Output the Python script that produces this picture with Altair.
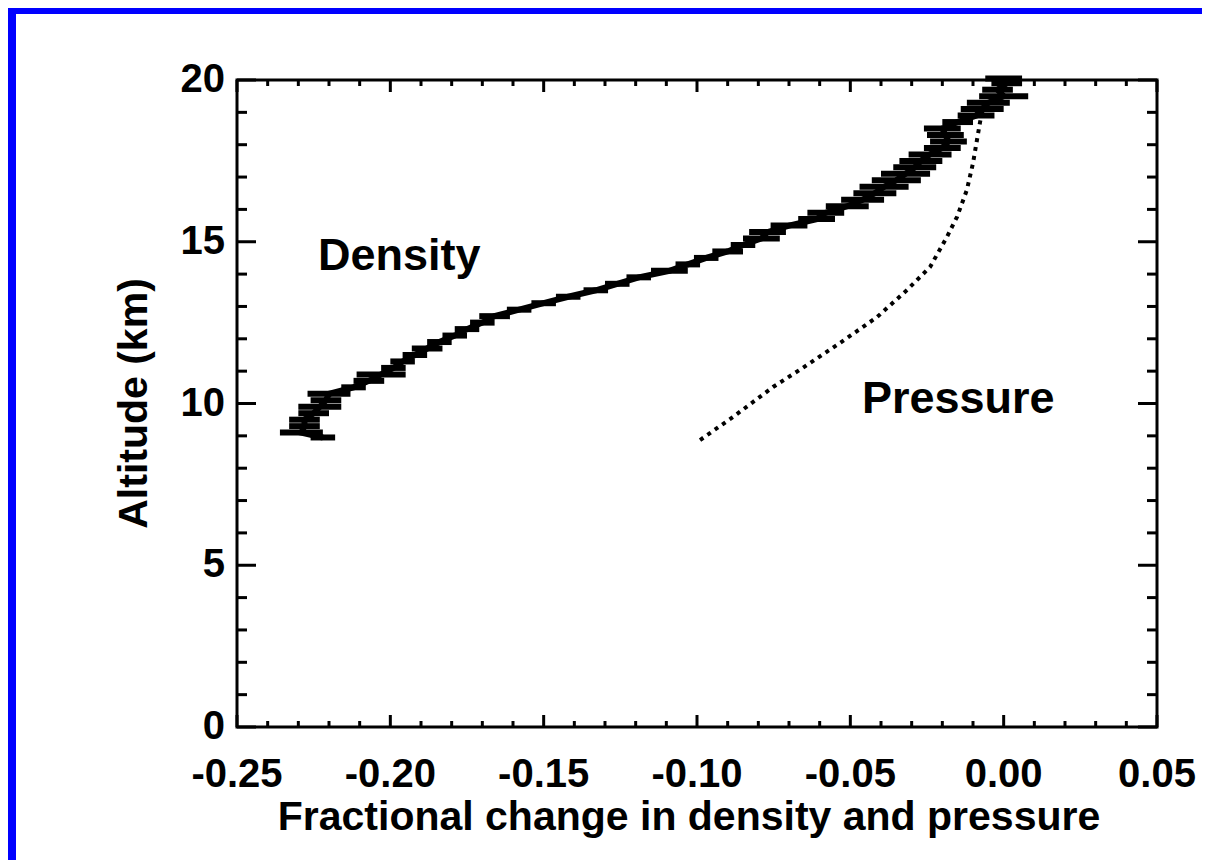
import altair as alt
import pandas as pd

# Density profile: altitude (km), fractional change, horizontal error half-width
dens_alt = [8.95, 9.1, 9.3, 9.5, 9.7, 9.9, 10.1, 10.3, 10.5, 10.7, 10.9, 11.1, 11.3, 11.5,
            11.7, 11.9, 12.1, 12.3, 12.5, 12.7, 12.9, 13.1, 13.3, 13.5, 13.7, 13.9, 14.1,
            14.3, 14.5, 14.7, 14.9, 15.1, 15.3, 15.5, 15.7, 15.9, 16.1, 16.3, 16.5, 16.7,
            16.9, 17.1, 17.3, 17.5, 17.7, 17.9, 18.1, 18.3, 18.5, 18.7, 18.9, 19.1, 19.3,
            19.5, 19.7, 19.9, 20.05]
dens_x = [-0.222, -0.229, -0.228, -0.228, -0.225, -0.223, -0.221, -0.220, -0.212, -0.207,
          -0.203, -0.199, -0.196, -0.192, -0.188, -0.184, -0.179, -0.175, -0.170, -0.166,
          -0.158, -0.150, -0.142, -0.133, -0.126, -0.119, -0.109, -0.103, -0.097, -0.090,
          -0.085, -0.079, -0.077, -0.070, -0.061, -0.058, -0.051, -0.046, -0.042, -0.039,
          -0.035, -0.032, -0.029, -0.027, -0.024, -0.020, -0.018, -0.019, -0.020, -0.015,
          -0.009, -0.007, -0.005, 0.000, -0.002, 0.001, 0.000]
dens_err = [0.004, 0.007, 0.005, 0.005, 0.005, 0.007, 0.005, 0.007, 0.004, 0.005,
            0.008, 0.004, 0.004, 0.004, 0.005, 0.004, 0.004, 0.004, 0.004, 0.005,
            0.004, 0.004, 0.004, 0.004, 0.004, 0.004, 0.006, 0.004, 0.004, 0.005,
            0.004, 0.006, 0.006, 0.006, 0.006, 0.006, 0.007, 0.007, 0.007, 0.008,
            0.008, 0.008, 0.007, 0.007, 0.007, 0.006, 0.006, 0.006, 0.006, 0.005,
            0.006, 0.007, 0.007, 0.008, 0.005, 0.005, 0.006]

# Pressure profile
press_alt = [8.87, 9.58, 10.51, 11.10, 11.87, 12.67, 13.51, 14.22, 15.15, 15.77, 16.60,
             17.43, 18.15, 18.70, 19.20]
press_x = [-0.099, -0.0883, -0.0752, -0.0655, -0.0534, -0.0413, -0.0315, -0.024, -0.0185,
           -0.0152, -0.012, -0.010, -0.0087, -0.0077, -0.0065]

# Ticks and tick labels
x_major = [-0.25, -0.20, -0.15, -0.10, -0.05, 0.00, 0.05]
x_labels = ["-0.25", "-0.20", "-0.15", "-0.10", "-0.05", "0.00", "0.05"]
x_minor = [-0.24, -0.23, -0.22, -0.21, -0.19, -0.18, -0.17, -0.16, -0.14, -0.13, -0.12,
           -0.11, -0.09, -0.08, -0.07, -0.06, -0.04, -0.03, -0.02, -0.01, 0.01, 0.02,
           0.03, 0.04]
y_major = [0, 5, 10, 15, 20]
y_labels = ["0", "5", "10", "15", "20"]
y_minor = [1, 2, 3, 4, 6, 7, 8, 9, 11, 12, 13, 14, 16, 17, 18, 19]

x_title = "Fractional change in density and pressure"
y_title = "Altitude (km)"

# Annotations
label_text = ["Density", "Pressure"]
label_x = [-0.2236, -0.0462]
label_y = [14.13, 9.71]

W, H = 920, 647
FONT = "Liberation Sans"

xs = alt.Scale(domain=[-0.25, 0.05], nice=False, zero=False)
ys = alt.Scale(domain=[0, 20], nice=False, zero=False)

dens = pd.DataFrame({"alt": dens_alt, "x": dens_x, "err": dens_err})
dens["lo"] = dens["x"] - dens["err"]
dens["hi"] = dens["x"] + dens["err"]
press = pd.DataFrame({"alt": press_alt, "x": press_x})
labels = pd.DataFrame({"t": label_text, "x": label_x, "y": label_y})

bars = alt.Chart(dens).mark_rule(color="black", strokeWidth=6, strokeCap="butt").encode(
    x=alt.X("lo:Q", scale=xs, axis=None),
    x2="hi:Q",
    y=alt.Y("alt:Q", scale=ys, axis=None),
)
dline = alt.Chart(dens).mark_line(color="black", strokeWidth=6).encode(
    x=alt.X("x:Q", scale=xs, axis=None),
    y=alt.Y("alt:Q", scale=ys, axis=None),
    order="alt:Q",
)
pline = alt.Chart(press).mark_line(color="black", strokeWidth=4, strokeDash=[4, 5]).encode(
    x=alt.X("x:Q", scale=xs, axis=None),
    y=alt.Y("alt:Q", scale=ys, axis=None),
    order="alt:Q",
)

def xticks(vals, length):
    d = pd.DataFrame({"v": vals})
    bottom = alt.Chart(d).mark_rule(color="black", strokeWidth=3).encode(
        x=alt.X("v:Q", scale=xs, axis=None), y=alt.value(H), y2=alt.value(H - length))
    top = alt.Chart(d).mark_rule(color="black", strokeWidth=3).encode(
        x=alt.X("v:Q", scale=xs, axis=None), y=alt.value(0), y2=alt.value(length))
    return [bottom, top]

def yticks(vals, length):
    d = pd.DataFrame({"v": vals})
    left = alt.Chart(d).mark_rule(color="black", strokeWidth=3).encode(
        y=alt.Y("v:Q", scale=ys, axis=None), x=alt.value(0), x2=alt.value(length))
    right = alt.Chart(d).mark_rule(color="black", strokeWidth=3).encode(
        y=alt.Y("v:Q", scale=ys, axis=None), x=alt.value(W), x2=alt.value(W - length))
    return [left, right]

tick_layers = xticks(x_major, 12) + xticks(x_minor, 6) + yticks(y_major, 19) + yticks(y_minor, 10)

xlab = alt.Chart(pd.DataFrame({"v": x_major, "t": x_labels})).mark_text(
    align="center", baseline="top", font=FONT, fontWeight="bold", fontSize=40, color="black"
).encode(x=alt.X("v:Q", scale=xs, axis=None), y=alt.value(H + 28), text="t:N")

ylab = alt.Chart(pd.DataFrame({"v": y_major, "t": y_labels})).mark_text(
    align="right", baseline="middle", font=FONT, fontWeight="bold", fontSize=40, color="black"
).encode(y=alt.Y("v:Q", scale=ys, axis=None), x=alt.value(-12), text="t:N")

xtit = alt.Chart(pd.DataFrame({"t": [x_title]})).mark_text(
    align="center", baseline="alphabetic", font=FONT, fontWeight="bold", fontSize=41, color="black"
).encode(x=alt.value(452), y=alt.value(H + 103), text="t:N")

ytit = alt.Chart(pd.DataFrame({"t": [y_title]})).mark_text(
    align="center", baseline="middle", angle=270, font=FONT, fontWeight="bold", fontSize=41,
    color="black"
).encode(x=alt.value(-102), y=alt.value(H / 2), text="t:N")

text = alt.Chart(labels).mark_text(
    align="left", baseline="alphabetic", font=FONT, fontWeight="bold", fontSize=45, color="black"
).encode(
    x=alt.X("x:Q", scale=xs, axis=None),
    y=alt.Y("y:Q", scale=ys, axis=None),
    text="t:N",
)

one = pd.DataFrame({"k": [0]})
blue_top = alt.Chart(one).mark_rect(color="#0000ff").encode(
    x=alt.value(-229), x2=alt.value(965), y=alt.value(-72), y2=alt.value(-66))
blue_left = alt.Chart(one).mark_rect(color="#0000ff").encode(
    x=alt.value(-229), x2=alt.value(-221), y=alt.value(-72), y2=alt.value(780))

chart = alt.layer(
    bars, dline, pline, *tick_layers, xlab, ylab, xtit, ytit, text, blue_top, blue_left
).properties(
    width=W, height=H,
    padding={"left": 229, "top": 72, "right": 45, "bottom": 133},
    autosize=alt.AutoSizeParams(type="none"),
    background="white",
).configure_view(
    stroke="black", strokeWidth=3
)

chart.save("out.html", embed_options={"renderer": "svg", "actions": False})
